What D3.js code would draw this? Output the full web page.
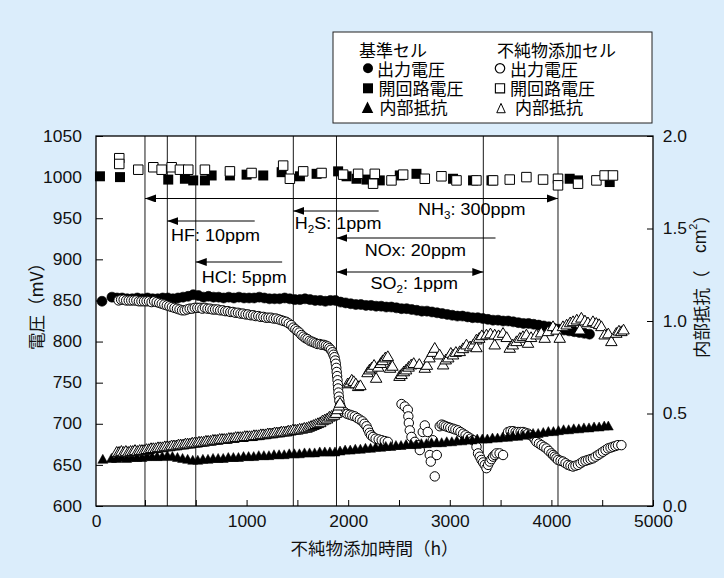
<!DOCTYPE html>
<html>
<head>
<meta charset="utf-8">
<script src="https://cdn.jsdelivr.net/npm/d3@7"></script>
<style>
  html, body { margin: 0; padding: 0; background: #dbedfb; }
  svg { display: block; }
</style>
</head>
<body>
<svg id="chart" width="724" height="578"></svg>
<script>
// ---- time axis (h) ----
const X_MIN = -482, X_MAX = 5000;
const xMinorTicks = [0, 500, 1000, 1500, 2000, 2500, 3000, 3500, 4000, 4500, 5000];
const xLabelTicks = [1000, 2000, 3000, 4000, 5000];
const voltTicks = [600, 650, 700, 750, 800, 850, 900, 950, 1000, 1050];
const resTicks = [0, 0.5, 1.0, 1.5, 2.0];

// ---- 基準セル 出力電圧 (mV) ----
const baseVoltage = [[-423,849],[-325,854],[-275,853],[-225,853],[-175,852],[-125,852],[-75,853],[-25,852],[25,853],[75,852],[125,852],[175,853],[225,853],[275,852],[325,853],[375,854],[425,855],[475,857],[525,856],[575,854],[625,855],[675,854],[725,854],[775,853],[825,854],[875,853],[925,854],[975,853],[1025,853],[1075,853],[1125,854],[1175,853],[1225,852],[1275,852],[1325,852],[1375,853],[1425,852],[1475,851],[1525,851],[1575,852],[1625,851],[1675,850],[1725,850],[1775,849],[1825,850],[1875,850],[1925,848],[1975,847],[2025,846],[2075,845],[2125,845],[2175,844],[2225,844],[2275,843],[2325,843],[2375,842],[2425,842],[2475,841],[2525,840],[2575,840],[2625,839],[2675,838],[2725,837],[2775,837],[2825,836],[2875,835],[2925,834],[2975,833],[3025,832],[3075,831],[3125,831],[3175,830],[3225,829],[3275,829],[3325,828],[3375,827],[3425,826],[3475,826],[3525,825],[3575,825],[3625,824],[3675,823],[3725,822],[3775,822],[3825,821],[3875,820],[3925,819],[3975,818],[4025,816],[4075,815],[4125,814],[4175,813],[4225,812],[4275,811],[4325,810],[4375,809]];

// ---- 基準セル 開回路電圧 (mV) ----
const baseOCV = [[-443,1001],[-246,1000],[229,997],[393,998],[475,996],[590,996],[656,1002],[836,1002],[1000,1003],[1164,1002],[1345,1006],[1525,1001],[1689,1004],[1901,1007],[1984,1001],[2082,998],[2181,997],[2311,996],[2508,1002],[2672,1004],[3032,998],[3229,996],[3410,996],[4180,998],[4262,996],[4574,994]];

// ---- 不純物添加セル 出力電圧 (mV) ----
const impVoltage = [[-260,850],[-235,851],[-210,851],[-185,850],[-160,850],[-135,850],[-110,850],[-85,850],[-60,849],[-35,849],[-10,849],[15,849],[40,849],[65,848],[90,849],[115,848],[140,847],[165,846],[190,845],[215,844],[240,843],[265,842],[290,841],[315,840],[340,839],[365,838],[390,838],[415,839],[440,840],[465,840],[490,841],[515,841],[540,841],[565,840],[590,841],[615,840],[640,840],[665,839],[690,839],[715,839],[740,838],[765,838],[790,837],[815,837],[840,836],[865,836],[890,835],[915,835],[940,834],[965,834],[990,833],[1015,833],[1040,832],[1065,832],[1090,831],[1115,831],[1140,830],[1165,830],[1190,829],[1215,829],[1240,829],[1265,828],[1290,828],[1315,827],[1340,826],[1365,825],[1390,824],[1415,822],[1440,820],[1460,817],[1480,815],[1500,813],[1520,811],[1540,808],[1560,806],[1580,804],[1600,803],[1620,801],[1640,800],[1660,799],[1680,798],[1700,797],[1720,797],[1740,796],[1760,796],[1780,795],[1800,794],[1815,792],[1830,790],[1845,787],[1855,784],[1865,781],[1872,777],[1878,773],[1883,768],[1887,763],[1891,758],[1895,753],[1898,748],[1901,743],[1904,738],[1908,733],[1913,728],[1920,723],[1930,719],[1945,716],[1965,714],[1990,712],[2015,711],[2040,710],[2065,709],[2090,707],[2115,705],[2140,703],[2160,700],[2180,697],[2195,693],[2210,689],[2225,686],[2245,684],[2270,682],[2300,681],[2330,680],[2360,679],[2390,678],[2525,724],[2557,721],[2587,717],[2592,709],[2597,701],[2606,692],[2623,684],[2656,678],[2685,674],[2705,668],[2734,690],[2754,698],[2783,690],[2803,662],[2813,654],[2833,680],[2852,636],[2872,662],[2901,697],[2920,699],[2940,698],[2960,697],[2983,696],[3005,695],[3032,694],[3055,693],[3081,692],[3105,690],[3131,688],[3155,686],[3180,684],[3205,682],[3229,680],[3263,672],[3278,664],[3295,660],[3312,656],[3328,653],[3344,650],[3361,646],[3377,650],[3393,654],[3410,657],[3426,660],[3443,662],[3459,664],[3490,664],[3524,662],[3573,690],[3598,691],[3623,691],[3648,690],[3672,690],[3697,690],[3721,690],[3745,689],[3770,688],[3795,686],[3819,684],[3836,681],[3853,678],[3878,676],[3902,674],[3927,672],[3951,670],[3975,667],[4000,664],[4017,662],[4033,660],[4049,658],[4065,656],[4090,655],[4114,654],[4139,652],[4164,650],[4188,649],[4213,648],[4237,649],[4262,650],[4287,652],[4311,654],[4336,655],[4360,656],[4385,657],[4409,658],[4434,660],[4459,662],[4484,664],[4508,666],[4533,668],[4557,670],[4582,671],[4606,672],[4630,673],[4655,674],[4689,674]];

// ---- 不純物添加セル 開回路電圧 (mV) ----
const impOCV = [[-253,1023],[-253,1016],[-66,1009],[82,1012],[164,1009],[263,1012],[344,1009],[426,1009],[590,1009],[836,1007],[1049,1005],[1360,1014],[1426,998],[1557,1007],[1738,1005],[1950,1003],[2098,1004],[2245,992],[2262,1004],[2426,996],[2541,1003],[2754,998],[2918,1001],[3066,996],[3262,996],[3426,996],[3590,997],[3754,1000],[3918,997],[4065,998],[4065,990],[4262,992],[4443,996],[4524,1002],[4606,1002]];

// ---- 基準セル 内部抵抗 (Ωcm²) ----
const baseRes = [[-415,0.25],[-330,0.255],[-280,0.255],[-230,0.26],[-180,0.255],[-130,0.26],[-80,0.26],[-30,0.26],[20,0.265],[70,0.265],[120,0.265],[170,0.265],[220,0.27],[270,0.265],[320,0.26],[370,0.255],[420,0.25],[470,0.245],[520,0.245],[570,0.25],[620,0.25],[670,0.255],[720,0.255],[770,0.255],[820,0.26],[870,0.26],[920,0.26],[970,0.265],[1020,0.265],[1070,0.265],[1120,0.27],[1170,0.27],[1220,0.27],[1270,0.275],[1320,0.275],[1370,0.275],[1420,0.28],[1470,0.28],[1520,0.28],[1570,0.285],[1620,0.285],[1670,0.285],[1720,0.29],[1770,0.29],[1820,0.29],[1870,0.29],[1920,0.295],[1970,0.30],[2020,0.30],[2070,0.305],[2120,0.305],[2170,0.31],[2220,0.31],[2270,0.315],[2320,0.315],[2370,0.32],[2420,0.32],[2470,0.325],[2520,0.325],[2570,0.33],[2620,0.33],[2670,0.33],[2720,0.335],[2770,0.335],[2820,0.34],[2870,0.34],[2920,0.34],[2970,0.345],[3020,0.345],[3070,0.35],[3120,0.35],[3170,0.355],[3220,0.355],[3270,0.36],[3320,0.36],[3370,0.36],[3420,0.365],[3470,0.365],[3520,0.37],[3570,0.37],[3620,0.375],[3670,0.375],[3720,0.38],[3770,0.385],[3820,0.39],[3870,0.39],[3920,0.395],[3970,0.40],[4020,0.40],[4070,0.405],[4120,0.41],[4170,0.41],[4220,0.415],[4270,0.415],[4320,0.42],[4370,0.42],[4420,0.425],[4470,0.425],[4520,0.43],[4560,0.43]];

// ---- 不純物添加セル 内部抵抗 (Ωcm²) ----
const impRes = [[-278,0.29],[-255,0.29],[-232,0.295],[-210,0.29],[-188,0.295],[-165,0.29],[-142,0.295],[-120,0.295],[-98,0.30],[-75,0.295],[-52,0.30],[-30,0.30],[-8,0.30],[15,0.305],[38,0.305],[60,0.31],[82,0.31],[105,0.31],[128,0.315],[150,0.315],[172,0.315],[195,0.32],[218,0.32],[240,0.32],[262,0.325],[285,0.325],[308,0.325],[330,0.33],[352,0.33],[375,0.33],[398,0.335],[420,0.335],[442,0.335],[465,0.34],[488,0.34],[510,0.34],[532,0.345],[555,0.345],[578,0.345],[600,0.35],[622,0.35],[645,0.35],[668,0.355],[690,0.355],[712,0.355],[735,0.36],[758,0.36],[780,0.36],[802,0.36],[825,0.365],[848,0.365],[870,0.365],[892,0.37],[915,0.37],[938,0.37],[960,0.37],[982,0.375],[1005,0.375],[1028,0.375],[1050,0.375],[1072,0.38],[1095,0.38],[1118,0.38],[1140,0.385],[1162,0.385],[1185,0.385],[1208,0.39],[1230,0.39],[1252,0.39],[1275,0.395],[1298,0.395],[1320,0.395],[1342,0.40],[1365,0.40],[1388,0.40],[1410,0.405],[1432,0.405],[1455,0.41],[1478,0.41],[1500,0.41],[1522,0.415],[1545,0.415],[1568,0.42],[1590,0.42],[1612,0.425],[1635,0.43],[1658,0.435],[1680,0.44],[1702,0.445],[1725,0.45],[1748,0.46],[1770,0.465],[1792,0.47],[1815,0.48],[1838,0.485],[1860,0.49],[1880,0.50],[1895,0.52],[1908,0.54],[1920,0.555],[1995,0.66],[2015,0.665],[2035,0.68],[2055,0.672],[2075,0.66],[2098,0.645],[2120,0.65],[2190,0.72],[2210,0.735],[2230,0.745],[2255,0.76],[2275,0.69],[2295,0.75],[2320,0.77],[2340,0.785],[2365,0.80],[2390,0.807],[2412,0.744],[2435,0.755],[2505,0.70],[2525,0.71],[2548,0.725],[2570,0.735],[2595,0.75],[2620,0.762],[2645,0.77],[2700,0.765],[2754,0.744],[2775,0.76],[2800,0.80],[2830,0.83],[2852,0.852],[2900,0.816],[2934,0.762],[2960,0.789],[2985,0.80],[3010,0.825],[3032,0.816],[3060,0.83],[3098,0.834],[3130,0.85],[3164,0.87],[3200,0.86],[3230,0.87],[3262,0.897],[3262,0.855],[3290,0.906],[3315,0.92],[3361,0.924],[3400,0.93],[3442,0.924],[3442,0.87],[3480,0.92],[3524,0.933],[3560,0.91],[3590,0.852],[3620,0.87],[3656,0.888],[3690,0.906],[3720,0.915],[3754,0.924],[3770,0.879],[3800,0.91],[3853,0.924],[3900,0.935],[3934,0.906],[3967,0.942],[4016,0.969],[4050,0.95],[4082,0.906],[4114,0.969],[4150,0.978],[4185,0.99],[4213,0.996],[4250,1.005],[4280,0.951],[4295,1.015],[4330,1.00],[4360,0.99],[4409,0.996],[4442,0.987],[4470,0.98],[4492,0.969],[4524,0.924],[4560,0.93],[4590,0.888],[4639,0.933],[4665,0.945],[4689,0.942],[4710,0.951]];

// ---- impurity dosing periods (h) ----
const periodEdges = [0, 220, 500, 1460, 1885, 3330, 4065];
const impurityNames = [["NH", "3", ": 300ppm"], ["HF: 10ppm"], ["HCl: 5ppm"], ["H", "2", "S: 1ppm"], ["NOx: 20ppm"], ["SO", "2", ": 1ppm"]];
const periodStart = [0, 220, 500, 1460, 1885, 1885];
const periodEnd   = [4065, 1080, 1350, 2300, 3450, 3330];
const periodBothHeads = [true, false, false, false, false, true];

// ---- legend entries ----
const cellNames = ["基準セル", "不純物添加セル"];
const measureNames = ["出力電圧", "開回路電圧", "内部抵抗"];

// ---- layout ----
const W = 724, H = 578;
const plot = { left: 96, right: 653, top: 136, bottom: 506 };
// arrow heights (mV scale) and label anchors (time, mV) for the dosing annotations
const arrowLevel = [974, 946.6, 896.8, 958.8, 926, 884.6];
const labelAt = [[2687, 954], [256, 922.3], [558, 871.8], [1475, 936.9], [2164, 903.5], [2220, 863.9]];

const LATIN = "'Liberation Sans', Arial, Helvetica, sans-serif";
const CJK = "'Noto Sans CJK JP', 'Noto Sans CJK SC', sans-serif";
const STRETCH = 1.09;

const svg = d3.select("#chart");

const x = d3.scaleLinear().domain([X_MIN, X_MAX]).range([plot.left, plot.right]);
const yV = d3.scaleLinear().domain([600, 1050]).range([plot.bottom, plot.top]);
const yR = d3.scaleLinear().domain([0, 2]).range([plot.bottom, plot.top]);

// background
svg.append("rect").attr("width", W).attr("height", H).attr("fill", "#dbedfb");

// plot area
svg.append("rect")
  .attr("x", plot.left).attr("y", plot.top)
  .attr("width", plot.right - plot.left).attr("height", plot.bottom - plot.top)
  .attr("fill", "#ffffff");

// arrow markers
const defs = svg.append("defs");
defs.append("marker")
  .attr("id", "head").attr("markerUnits", "userSpaceOnUse")
  .attr("markerWidth", 12).attr("markerHeight", 9)
  .attr("refX", 11).attr("refY", 4).attr("orient", "auto-start-reverse")
  .append("path").attr("d", "M0,0 L11,4 L0,8 Z").attr("fill", "#000");

// dosing period boundaries
svg.append("g").selectAll("line").data(periodEdges).join("line")
  .attr("x1", d => x(d)).attr("x2", d => x(d))
  .attr("y1", plot.top).attr("y2", plot.bottom)
  .attr("stroke", "#1a1a1a").attr("stroke-width", 1);

// triangle symbol: size value is the base width, ratio gives the height
function triangleType(ratio) {
  return {
    draw(ctx, size) {
      const w = size, h = size * ratio;
      ctx.moveTo(0, -h * 0.6);
      ctx.lineTo(w / 2, h * 0.4);
      ctx.lineTo(-w / 2, h * 0.4);
      ctx.closePath();
    }
  };
}

const marks = svg.append("g");
function drawSeries(data, yScale, symbolType, size, fill, stroke, sw) {
  const sym = d3.symbol().type(symbolType).size(size);
  marks.append("g").selectAll("path").data(data).join("path")
    .attr("transform", d => `translate(${x(d[0])},${yScale(d[1])})`)
    .attr("d", sym)
    .attr("fill", fill)
    .attr("stroke", stroke)
    .attr("stroke-width", sw);
}

drawSeries(baseVoltage, yV, d3.symbolCircle, Math.PI * 5 * 5, "#000", "#000", 0.6);
drawSeries(baseOCV, yV, d3.symbolSquare, 100, "#000", "none", 0);
drawSeries(impVoltage, yV, d3.symbolCircle, Math.PI * 4.7 * 4.7, "#fff", "#000", 1);
drawSeries(impOCV, yV, d3.symbolSquare, 90, "#fff", "#000", 1);
drawSeries(baseRes, yR, triangleType(0.9), 10, "#000", "#000", 0.5);
drawSeries(impRes, yR, triangleType(0.85), 11.5, "#fff", "#000", 1);

// dosing annotations
const ann = svg.append("g");
impurityNames.forEach((parts, i) => {
  ann.append("line")
    .attr("x1", x(periodEnd[i])).attr("x2", x(periodStart[i]))
    .attr("y1", yV(arrowLevel[i])).attr("y2", yV(arrowLevel[i]))
    .attr("stroke", "#000").attr("stroke-width", 1.1)
    .attr("marker-end", "url(#head)")
    .attr("marker-start", periodBothHeads[i] ? "url(#head)" : null);

  const t = ann.append("text")
    .attr("transform", `translate(${x(labelAt[i][0])},${yV(labelAt[i][1])}) scale(${STRETCH - 0.03},1)`)
    .attr("font-family", LATIN).attr("font-size", 17).attr("fill", "#000");
  if (parts.length === 1) {
    t.text(parts[0]);
  } else {
    t.append("tspan").text(parts[0]);
    t.append("tspan").attr("font-size", 11).attr("dy", 4).text(parts[1]);
    t.append("tspan").attr("dy", -4).text(parts[2]);
  }
});

// axes
const xAxis = d3.axisBottom(x)
  .tickValues([X_MIN].concat(xMinorTicks))
  .tickSizeInner(-6).tickSizeOuter(0).tickPadding(10)
  .tickFormat(d => d === X_MIN ? "0" : (xLabelTicks.includes(d) ? String(d) : ""));
const gx = svg.append("g").attr("transform", `translate(0,${plot.bottom})`).call(xAxis);

const yAxisL = d3.axisLeft(yV).tickValues(voltTicks).tickFormat(d3.format("d"))
  .tickSizeInner(-7).tickSizeOuter(0).tickPadding(13);
const gyl = svg.append("g").attr("transform", `translate(${plot.left},0)`).call(yAxisL);

const yAxisR = d3.axisRight(yR).tickValues(resTicks).tickFormat(d3.format(".1f"))
  .tickSizeInner(-6).tickSizeOuter(0).tickPadding(9);
const gyr = svg.append("g").attr("transform", `translate(${plot.right},0)`).call(yAxisR);

[gx, gyl, gyr].forEach(g => {
  g.select(".domain").remove();
  g.selectAll(".tick line").attr("stroke", "#000").attr("stroke-width", 1);
  g.selectAll(".tick text")
    .attr("font-family", LATIN).attr("font-size", 16).attr("fill", "#111")
    .attr("transform", `scale(${STRETCH},1)`);
});
gx.selectAll(".tick").filter(d => d === X_MIN).select("line").remove();

// frame
svg.append("rect")
  .attr("x", plot.left).attr("y", plot.top)
  .attr("width", plot.right - plot.left).attr("height", plot.bottom - plot.top)
  .attr("fill", "none").attr("stroke", "#000").attr("stroke-width", 1.3);

// axis titles
svg.append("text")
  .attr("x", (plot.left + plot.right) / 2).attr("y", 555)
  .attr("text-anchor", "middle")
  .attr("font-family", CJK).attr("font-size", 17.5).attr("fill", "#111")
  .text("不純物添加時間（h）");

svg.append("text")
  .attr("transform", "translate(35,302) rotate(-90)")
  .attr("text-anchor", "middle").attr("dominant-baseline", "central")
  .attr("font-family", CJK).attr("font-size", 17.5).attr("fill", "#111")
  .text("電圧（mV）");

const rt = svg.append("text")
  .attr("transform", "translate(700,282) rotate(-90)")
  .attr("text-anchor", "middle").attr("dominant-baseline", "central")
  .attr("font-family", CJK).attr("font-size", 17.5).attr("fill", "#111");
rt.append("tspan").text("内部抵抗（　");
rt.append("tspan").attr("font-family", LATIN).text("cm");
rt.append("tspan").attr("font-family", LATIN).attr("font-size", 11).attr("dy", -7).text("2");
rt.append("tspan").attr("dy", 7).text("）");

// legend
const lg = svg.append("g");
lg.append("rect").attr("x", 333).attr("y", 32).attr("width", 319).attr("height", 91)
  .attr("fill", "#fff").attr("stroke", "#222").attr("stroke-width", 1);

const legendSymbols = [
  [d3.symbolCircle, 78.5, "#000", "none", 0, 368, 68.3],
  [d3.symbolSquare, 100, "#000", "none", 0, 368, 88.3],
  [triangleType(1.0), 11.5, "#000", "none", 0, 367.5, 108.5],
  [d3.symbolCircle, 70, "#fff", "#000", 1.2, 500, 68.3],
  [d3.symbolSquare, 85, "#fff", "#000", 1.1, 500, 88.3],
  [triangleType(1.1), 8.5, "#fff", "#000", 1, 501, 109]
];
legendSymbols.forEach(([type, size, fill, stroke, sw, sx, sy]) => {
  lg.append("path")
    .attr("transform", `translate(${sx},${sy})`)
    .attr("d", d3.symbol().type(type).size(size))
    .attr("fill", fill).attr("stroke", stroke).attr("stroke-width", sw);
});

// one text block per column: cell name, then the three measured quantities
const headX = [359, 497];
const rowX = [[377, 378.5, 379.5], [510, 510, 515]];
const rowY = [75.5, 94.5, 113.5];
cellNames.forEach((name, c) => {
  const block = lg.append("text")
    .attr("font-family", CJK).attr("font-size", 17).attr("fill", "#000");
  block.append("tspan").attr("x", headX[c]).attr("y", 57).text(name);
  measureNames.forEach((m, i) => {
    block.append("tspan").attr("x", rowX[c][i]).attr("y", rowY[i]).text(m);
  });
});
</script>
</body>
</html>
